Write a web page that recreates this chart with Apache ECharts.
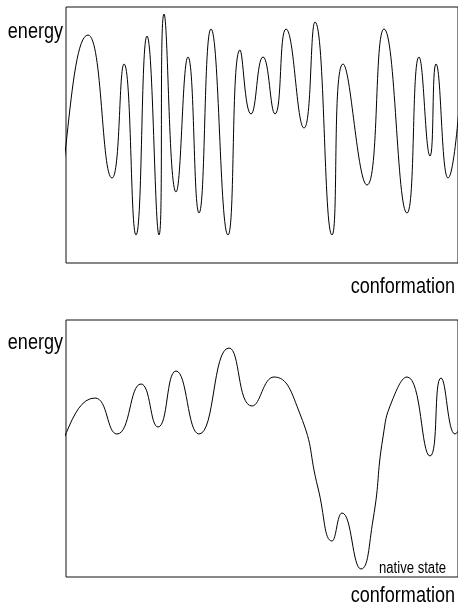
<!DOCTYPE html>
<html>
<head>
<meta charset="utf-8">
<script src="https://cdn.jsdelivr.net/npm/echarts@6/dist/echarts.min.js"></script>
<style>
  html, body { margin: 0; padding: 0; background: #fff; }
  #chart { width: 458px; height: 610px; }
</style>
</head>
<body>
<div id="chart"></div>
<script>
// Rugged landscape (top panel): extrema
var topConformation = [-45, -21, 22, 46, 58, 70, 81, 93, 98, 110, 122, 133, 145, 162, 174, 185, 197, 209, 220, 238, 249, 266, 277, 301, 318, 341, 353, 364, 370, 382, 398];
var topEnergy       = [150, 26, 228, 85, 199, 28, 227, 28, 249, 71, 206, 50, 234, 28, 213, 149, 206, 149, 234, 135, 241, 28, 199, 78, 234, 50, 206, 107, 199, 85, 222];

// Funnel-like landscape with native state (bottom panel)
var botConformation = [-55, -26, 29, 51, 75, 92, 110, 133, 163, 186, 208, 234, 252, 266, 276, 295, 307, 317, 326, 341, 364, 375, 389, 404];
var botEnergy       = [175, 110, 179, 143, 193, 150, 206, 143, 229, 171, 200, 163, 89, 36, 64, 8, 57, 140, 176, 200, 121, 199, 143, 197];

var axisLabels = { y: 'energy', x: 'conformation', nativeState: 'native state' };

function zip(a, b) { return a.map(function (v, i) { return [v, b[i]]; }); }

var chart = echarts.init(document.getElementById('chart'), null, { renderer: 'canvas' });
var FONT = 'Liberation Sans, Arial, sans-serif';
var NARROW = 0.82;

function xAx(idx) {
  return { gridIndex: idx, type: 'value', min: 0, max: 392, show: false };
}
function yAx(idx, max) {
  return { gridIndex: idx, type: 'value', min: 0, max: max, show: false };
}
function txt(x, y, s, size, align) {
  return {
    type: 'text', x: x, y: y, scaleX: NARROW, silent: true,
    style: { text: s, font: size + 'px ' + FONT, fill: '#000', align: align, verticalAlign: 'middle' }
  };
}

chart.setOption({
  animation: false,
  backgroundColor: '#fff',
  grid: [
    { left: 66, top: 7, width: 394, height: 256, show: true, borderColor: '#111', borderWidth: 1, backgroundColor: 'transparent' },
    { left: 66, top: 320, width: 394, height: 257, show: true, borderColor: '#111', borderWidth: 1, backgroundColor: 'transparent' }
  ],
  xAxis: [xAx(0), xAx(1)],
  yAxis: [yAx(0, 256), yAx(1, 257)],
  series: [
    {
      type: 'line', xAxisIndex: 0, yAxisIndex: 0, data: zip(topConformation, topEnergy),
      smooth: 0.52, showSymbol: false, symbol: 'none', clip: true,
      lineStyle: { color: '#000', width: 1 }
    },
    {
      type: 'line', xAxisIndex: 1, yAxisIndex: 1, data: zip(botConformation, botEnergy),
      smooth: 0.52, showSymbol: false, symbol: 'none', clip: true,
      lineStyle: { color: '#000', width: 1 }
    }
  ],
  graphic: [
    txt(63, 32, axisLabels.y, 22, 'right'),
    txt(455, 287, axisLabels.x, 22, 'right'),
    txt(63, 343, axisLabels.y, 22, 'right'),
    txt(455, 596, axisLabels.x, 22, 'right'),
    txt(379, 569, axisLabels.nativeState, 16, 'left')
  ]
});
</script>
</body>
</html>
